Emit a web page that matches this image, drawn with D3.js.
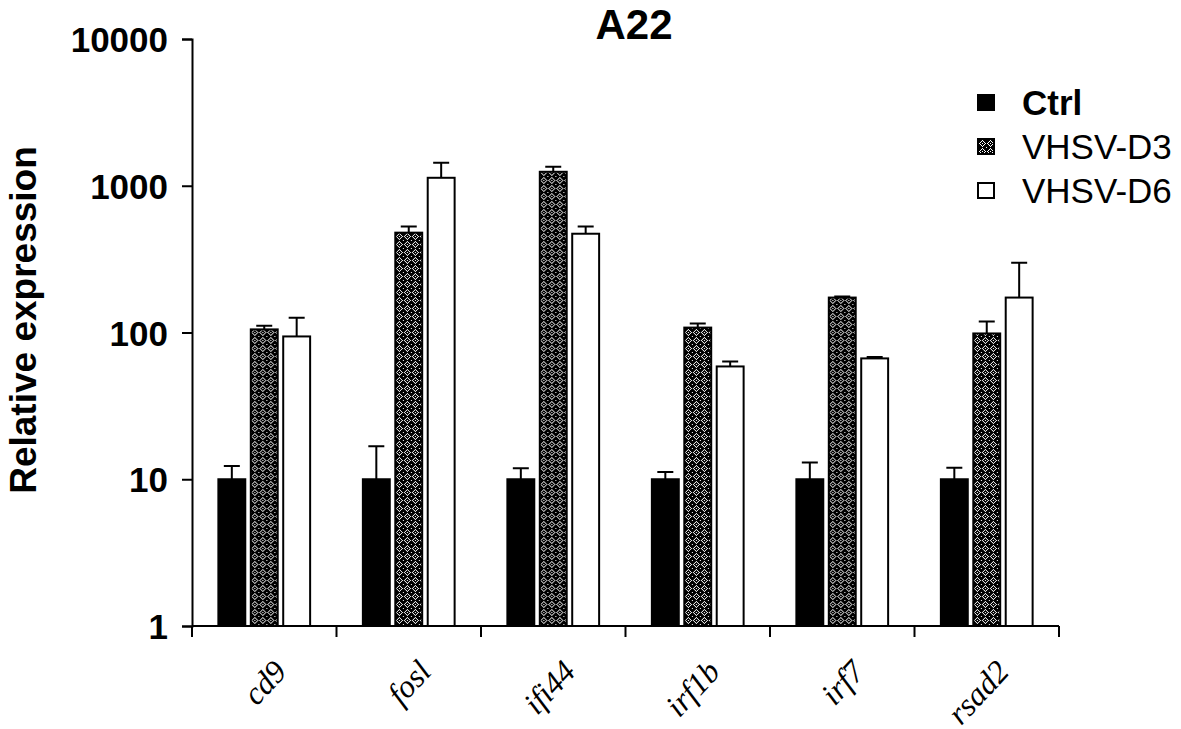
<!DOCTYPE html>
<html>
<head>
<meta charset="utf-8">
<script src="https://cdn.jsdelivr.net/npm/d3@7"></script>
<style>
  body { margin: 0; background: #fff; }
  svg { display: block; }
  text { fill: #000; }
</style>
</head>
<body>
<svg></svg>
<script>
const genes = ["cd9", "fosl", "ifi44", "irf1b", "irf7", "rsad2"];
const groups = ["Ctrl", "VHSV-D3", "VHSV-D6"];

// mean values per group (relative expression)
const ctrlValues = [10, 10, 10, 10, 10, 10];
const d3Values = [105, 479, 1245, 108, 173, 98.5];
const d6Values = [94, 1133, 471, 58.7, 66.6, 173];

// top of the error bar per group
const ctrlErrTop = [12.3, 16.8, 11.9, 11.2, 13, 12];
const d3ErrTop = [111, 527, 1346, 115, 176, 119];
const d6ErrTop = [126, 1433, 527, 63.5, 68, 299];

const yTicks = [1, 10, 100, 1000, 10000];

const width = 1181;
const height = 729;
const margin = { top: 39, right: 122, bottom: 103, left: 192 };

const svg = d3
    .select("svg")
    .attr("width", width)
    .attr("height", height);

// crosshatch pattern of the VHSV-D3 bars
const defs = svg.append("defs");
const pat = defs
    .append("pattern")
    .attr("id", "hatch")
    .attr("patternUnits", "userSpaceOnUse")
    .attr("width", 8)
    .attr("height", 8);
pat.append("rect").attr("width", 8).attr("height", 8).attr("fill", "#000");
const ring = [[4,1],[5,2],[6,3],[7,4],[6,5],[5,6],[4,7],[3,6],[2,5],[1,4],[2,3],[3,2],[0,0],[4,4]];
ring.forEach(p => {
    pat.append("rect")
        .attr("x", p[0]).attr("y", p[1])
        .attr("width", 1).attr("height", 1)
        .attr("fill", "#fff");
});

const fills = { "Ctrl": "#000", "VHSV-D3": "url(#hatch)", "VHSV-D6": "#fff" };

const data = genes.map((g, i) => ({
    gene: g,
    bars: [
        { key: "Ctrl", value: ctrlValues[i], err: ctrlErrTop[i] },
        { key: "VHSV-D3", value: d3Values[i], err: d3ErrTop[i] },
        { key: "VHSV-D6", value: d6Values[i], err: d6ErrTop[i] }
    ]
}));

const x0 = d3
    .scaleBand()
    .domain(genes)
    .range([margin.left, width - margin.right])
    .paddingInner(0.365)
    .paddingOuter(0.1825);

const x1 = d3
    .scaleBand()
    .domain(groups)
    .range([0, x0.bandwidth()])
    .paddingInner(0.17);

const y = d3
    .scaleLog()
    .domain([1, 10000])
    .range([height - margin.bottom, margin.top]);

const plot = svg.append("g");

const gGroup = plot
    .selectAll("g.gene")
    .data(data)
    .enter()
    .append("g")
    .attr("class", "gene")
    .attr("transform", d => "translate(" + x0(d.gene) + ",0)");

// error bars (drawn before bars so the bar outline sits on top)
const cap = 16;
gGroup.selectAll("path.err")
    .data(d => d.bars)
    .enter()
    .append("path")
    .attr("class", "err")
    .attr("fill", "none")
    .attr("stroke", "#000")
    .attr("stroke-width", 2)
    .attr("d", d => {
        const cx = x1(d.key) + x1.bandwidth() / 2;
        return `M ${cx} ${y(d.value)} L ${cx} ${y(d.err)}
                M ${cx - cap / 2} ${y(d.err)} L ${cx + cap / 2} ${y(d.err)}`;
    });

gGroup.selectAll("rect.bar")
    .data(d => d.bars)
    .enter()
    .append("rect")
    .attr("class", "bar")
    .attr("x", d => x1(d.key))
    .attr("y", d => y(d.value))
    .attr("width", x1.bandwidth())
    .attr("height", d => y(1) - y(d.value))
    .attr("fill", d => fills[d.key])
    .attr("stroke", "#000")
    .attr("stroke-width", 2);

// y axis
const yAxis = svg
    .append("g")
    .attr("transform", "translate(" + margin.left + ",0)")
    .call(
        d3.axisLeft(y)
            .tickValues(yTicks)
            .tickFormat(d3.format("d"))
            .tickSize(10)
            .tickPadding(14)
    );
yAxis.select(".domain").attr("stroke-width", 2);
yAxis.selectAll(".tick line").attr("stroke-width", 2);
yAxis.selectAll(".tick text")
    .attr("font-family", "Liberation Sans, Arial, sans-serif")
    .attr("font-weight", "bold")
    .attr("font-size", 35)
    .attr("dy", "0.36em");

// x axis: baseline and ticks at band boundaries
const step = x0.step();
const left = margin.left;
const right = width - margin.right;
svg.append("line")
    .attr("x1", left).attr("x2", right)
    .attr("y1", y(1)).attr("y2", y(1))
    .attr("stroke", "#000").attr("stroke-width", 2);

svg.selectAll("line.xtick")
    .data(d3.range(genes.length + 1))
    .enter()
    .append("line")
    .attr("class", "xtick")
    .attr("x1", i => left + i * step)
    .attr("x2", i => left + i * step)
    .attr("y1", y(1))
    .attr("y2", y(1) + 11)
    .attr("stroke", "#000")
    .attr("stroke-width", 2);

svg.selectAll("text.xlabel")
    .data(genes)
    .enter()
    .append("text")
    .attr("class", "xlabel")
    .attr("transform", g => "translate(" + (x0(g) + x0.bandwidth() / 2 + 24) + "," + (y(1) + 47) + ") rotate(-47)")
    .attr("text-anchor", "end")
    .attr("font-family", "Liberation Serif, Times New Roman, serif")
    .attr("font-style", "italic")
    .attr("font-size", 32)
    .text(g => g);

// title
svg.append("text")
    .attr("x", 634)
    .attr("y", 39)
    .attr("text-anchor", "middle")
    .attr("font-family", "Liberation Sans, Arial, sans-serif")
    .attr("font-weight", "bold")
    .attr("font-size", 42)
    .text("A22");

// y axis title
svg.append("text")
    .attr("transform", "translate(36,320) rotate(-90)")
    .attr("text-anchor", "middle")
    .attr("font-family", "Liberation Sans, Arial, sans-serif")
    .attr("font-weight", "bold")
    .attr("font-size", 37)
    .text("Relative expression");

// legend
const legend = svg
    .selectAll("g.legend")
    .data(groups)
    .enter()
    .append("g")
    .attr("class", "legend")
    .attr("transform", (d, i) => "translate(978," + (95 + i * 44) + ")");

legend.append("rect")
    .attr("width", 16)
    .attr("height", 15)
    .attr("fill", d => fills[d])
    .attr("stroke", "#000")
    .attr("stroke-width", 2);

legend.append("text")
    .attr("x", 44)
    .attr("y", 7)
    .attr("dy", "0.36em")
    .attr("font-family", "Liberation Sans, Arial, sans-serif")
    .attr("font-weight", d => (d == "Ctrl" ? "bold" : "normal"))
    .attr("font-size", 35)
    .text(d => d);
</script>
</body>
</html>
